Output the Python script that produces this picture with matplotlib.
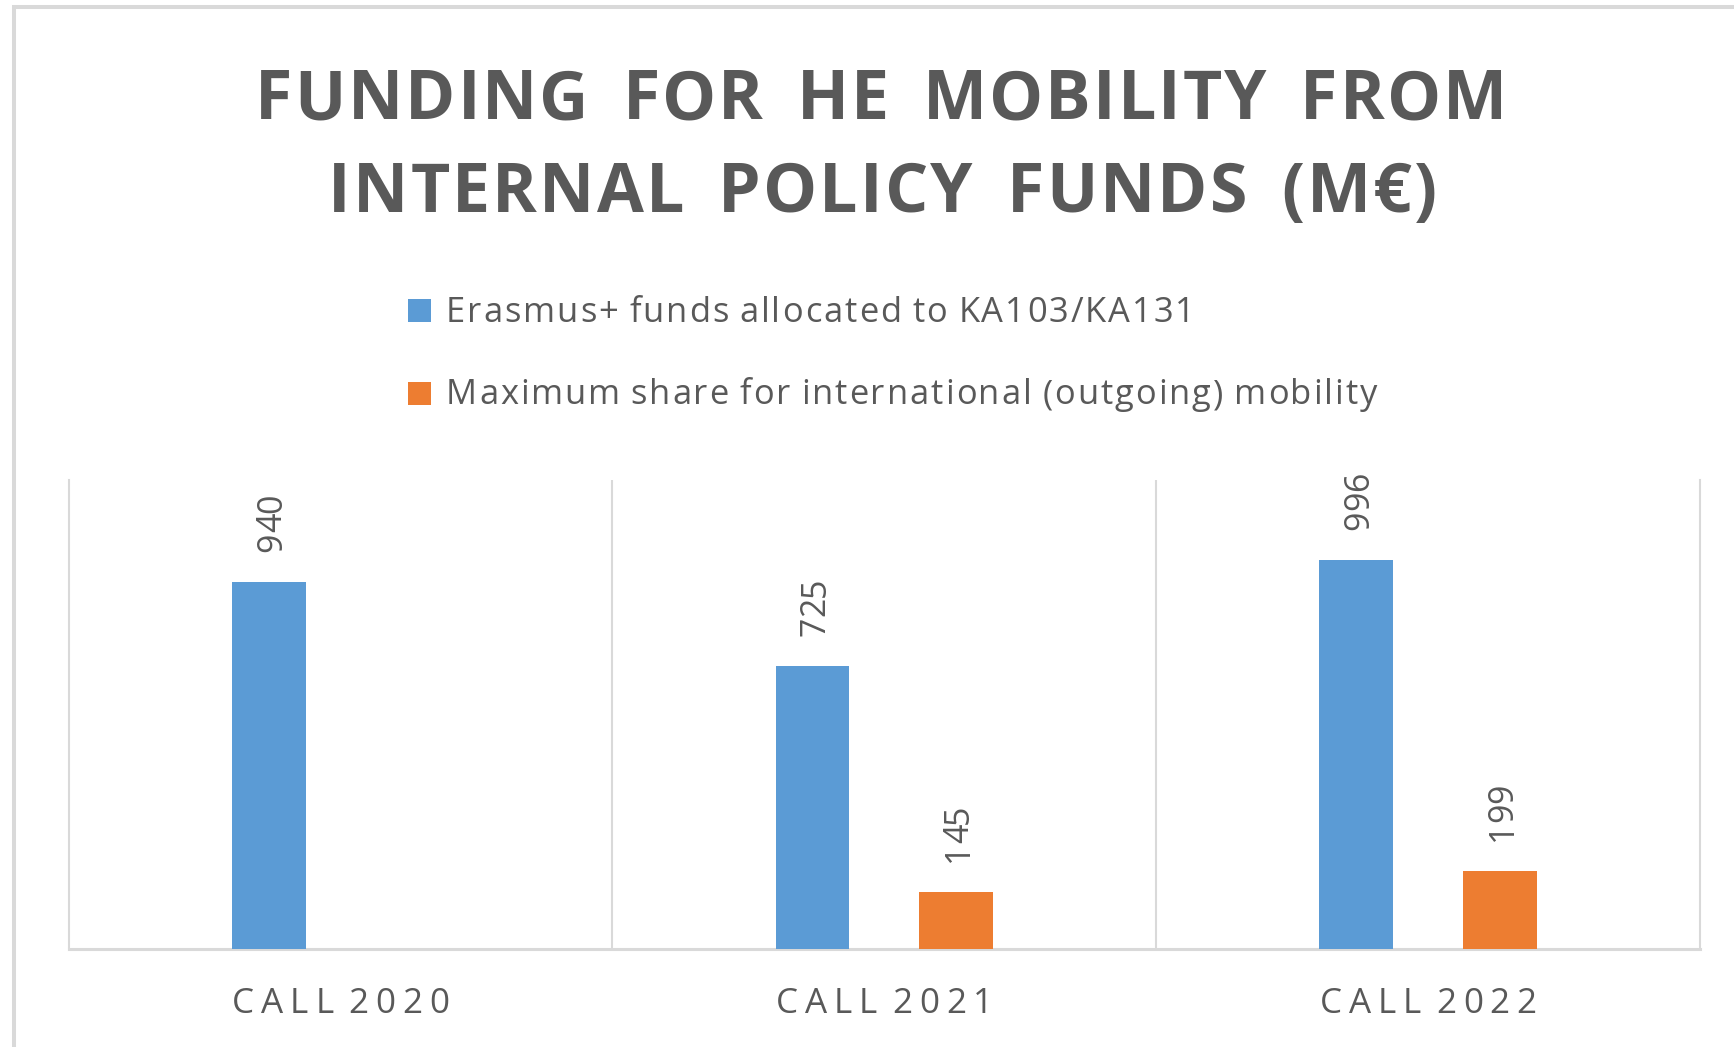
import matplotlib
matplotlib.use('Agg')
import numpy as np
import matplotlib.pyplot as plt
from matplotlib.font_manager import FontProperties, findfont, get_font
from matplotlib.patches import Rectangle
from matplotlib.transforms import IdentityTransform

# ---------------- data ----------------
categories = ['CALL 2020', 'CALL 2021', 'CALL 2022']
erasmus_funds = [940, 725, 996]
intl_share = [np.nan, 145, 199]
series_names = ['Erasmus+ funds allocated to KA103/KA131',
                'Maximum share for international (outgoing) mobility']
title_lines = ['FUNDING FOR HE MOBILITY FROM', 'INTERNAL POLICY FUNDS (M€)']

# ---------------- style ----------------
W, H, DPI = 1734, 1047, 100
BLUE = '#5B9BD5'
ORANGE = '#ED7D31'
TXT = '#595959'
GRID = '#d9d9d9'
FAM = 'Open Sans'

fig = plt.figure(figsize=(W / DPI, H / DPI), dpi=DPI)
ID = IdentityTransform()


def spaced_text(x, y, s, size_px, target_len=None, weight='normal',
                color=TXT, align='left', rotation=0, word_extra=0):
    """Draw letter-spaced text in display pixels; (x, y) is on the baseline."""
    prop = FontProperties(family=FAM, weight=weight, size=size_px * 72 / DPI)
    font = get_font(findfont(prop))
    font.set_size(prop.get_size_in_points(), DPI)
    adv = [font.load_char(ord(c)).linearHoriAdvance / 65536
           + (word_extra if c == ' ' else 0) for c in s]
    natural = sum(adv)
    n = len(s)
    spacing = (target_len - natural) / (n - 1) if (target_len and n > 1) else 0
    total = natural + spacing * (n - 1)
    ux, uy = (1, 0) if rotation == 0 else (0, 1)
    pos = 0 if align == 'left' else -total / 2
    for c, a in zip(s, adv):
        p = pos + a / 2
        if not c.isspace():
            fig.text(x + ux * p, y + uy * p, c, transform=ID, fontproperties=prop,
                     color=color, ha='center', va='baseline',
                     rotation=rotation, rotation_mode='anchor')
        pos += a + spacing


# ---------------- axes ----------------
ax_left, ax_right, ax_bottom, ax_top = 68.6, 1700, 949, 480
ax = fig.add_axes([ax_left / W, (H - ax_bottom) / H,
                   (ax_right - ax_left) / W, (ax_bottom - ax_top) / H])
ax.set_xlim(-0.5, len(categories) - 0.5)
ax.set_ylim(0, 1200)

x = np.arange(len(categories))
bw, offs = 0.136, 0.132
ax.bar(x - offs, erasmus_funds, width=bw, color=BLUE, zorder=3)
ax.bar(x + offs, intl_share, width=bw, color=ORANGE, zorder=3)

ax.spines['top'].set_visible(False)
for sp in ['left', 'right']:
    ax.spines[sp].set_color(GRID)
    ax.spines[sp].set_linewidth(1.5)
ax.spines['bottom'].set_color(GRID)
ax.spines['bottom'].set_linewidth(2.2)
for xv in np.arange(0.5, len(categories) - 0.5, 1.0):
    ax.axvline(xv, color=GRID, lw=1.5, zorder=1)
ax.set_xticks(x)
ax.set_xticklabels([''] * len(categories))
ax.set_yticks([])
ax.tick_params(axis='x', length=0)

# ---------------- title ----------------
spaced_text(255, H - 119, title_lines[0], 68, target_len=1252, weight='bold',
            word_extra=12)
spaced_text(328, H - 212, title_lines[1], 68, target_len=1109, weight='bold',
            word_extra=12)

# ---------------- legend ----------------
leg_y = [310.5, 393]
leg_base = [322, 404]
leg_len = [749, 931]
for name, col, cy, by, ln in zip(series_names, [BLUE, ORANGE], leg_y, leg_base, leg_len):
    fig.add_artist(Rectangle((408, H - cy - 11.5), 23, 23, transform=ID,
                             facecolor=col, edgecolor='none'))
    spaced_text(446, H - by, name, 34.5, target_len=ln, word_extra=-2)

# ---------------- category labels ----------------
for i, cat in enumerate(categories):
    cx, _ = ax.transData.transform((i, 0))
    spaced_text(cx, H - 1013, cat, 35, target_len=217, align='center',
                word_extra=-8)

# ---------------- data labels ----------------
DL_PX = 34
cap = 0.714 * DL_PX
for vals, sign in [(erasmus_funds, -1), (intl_share, 1)]:
    for i, v in enumerate(vals):
        if np.isnan(v):
            continue
        bx, by = ax.transData.transform((i + sign * offs, v))
        spaced_text(bx + cap / 2, by + 30, str(int(v)), DL_PX, rotation=90,
                    target_len=58)

# ---------------- chart frame ----------------
fig.add_artist(Rectangle((14, -20), W + 40, H - 7 + 20, transform=ID,
                         fill=False, edgecolor=GRID, lw=2.9))

fig.savefig('out.png', dpi=DPI)
